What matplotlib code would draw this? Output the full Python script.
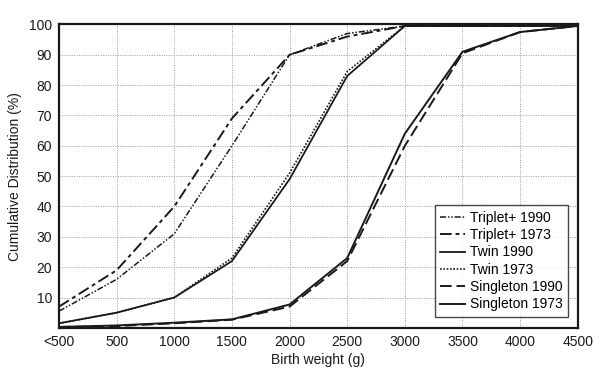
import matplotlib
matplotlib.use("Agg")
import matplotlib.pyplot as plt
import numpy as np

plt.rcParams["font.family"] = ["Liberation Sans", "DejaVu Sans"]

# birth weight categories (g)
weights = ["<500", "500", "1000", "1500", "2000", "2500", "3000", "3500", "4000", "4500"]

# cumulative distribution (%)
triplet_1990 = [5.5, 16, 31, 60, 90, 97, 99.5, 99.5, 99.5, 99.5]
triplet_1973 = [7, 19, 40, 69, 90, 96, 99.5, 99.5, 99.5, 99.5]
twin_1990 = [1.5, 5, 10, 22, 49, 83, 99.5, 99.5, 99.5, 99.5]
twin_1973 = [1.5, 5, 10, 23, 51, 84.5, 99.5, 99.5, 99.5, 99.5]
single_1990 = [0.3, 0.6, 1.5, 2.7, 7, 22, 60, 90.5, 97.5, 99.5]
single_1973 = [0.3, 0.8, 1.7, 2.8, 7.7, 23, 64, 91, 97.5, 99.5]

INK = "#1a1a1a"

fig = plt.figure(figsize=(6.05, 3.76), dpi=100, facecolor="white")
ax = fig.add_axes([0.0975, 0.128, 0.8575, 0.807])

x = np.arange(len(weights))
series = [
    ("Triplet+ 1990", triplet_1990, (0, (4, 1.2, 1, 1.2, 1, 1.2)), 1.1),
    ("Triplet+ 1973", triplet_1973, (0, (6, 2, 2, 2)), 1.4),
    ("Twin 1990", twin_1990, "-", 1.3),
    ("Twin 1973", twin_1973, (0, (1, 1)), 1.2),
    ("Singleton 1990", single_1990, (0, (6, 2.5)), 1.4),
    ("Singleton 1973", single_1973, "-", 1.4),
]
for label, vals, ls, lw in series:
    ax.plot(x, vals, color=INK, ls=ls, lw=lw, label=label)

ax.set_xlim(0, len(weights) - 1)
ax.set_ylim(0, 100)
ax.set_xticks(x)
ax.set_xticklabels(weights)
ax.set_yticks(np.arange(10, 101, 10))
ax.tick_params(length=0, labelsize=10, colors=INK, pad=5)
ax.grid(color="#999999", ls=(0, (1, 1.5)), lw=0.7)
ax.set_axisbelow(True)
for s in ax.spines.values():
    s.set_color(INK)
    s.set_linewidth(1.6)

ax.set_xlabel("Birth weight (g)", fontsize=10, color=INK, labelpad=3)
ax.set_ylabel("Cumulative Distribution (%)", fontsize=10, color=INK, labelpad=5)

leg = ax.legend(loc="lower right", bbox_to_anchor=(0.995, 0.013), fontsize=10,
                frameon=True, fancybox=False, edgecolor=INK, handlelength=1.8,
                handletextpad=0.35, labelspacing=0.24, borderpad=0.4)
leg.get_frame().set_linewidth(1.0)

fig.savefig("out.png", dpi=100, facecolor="white")
